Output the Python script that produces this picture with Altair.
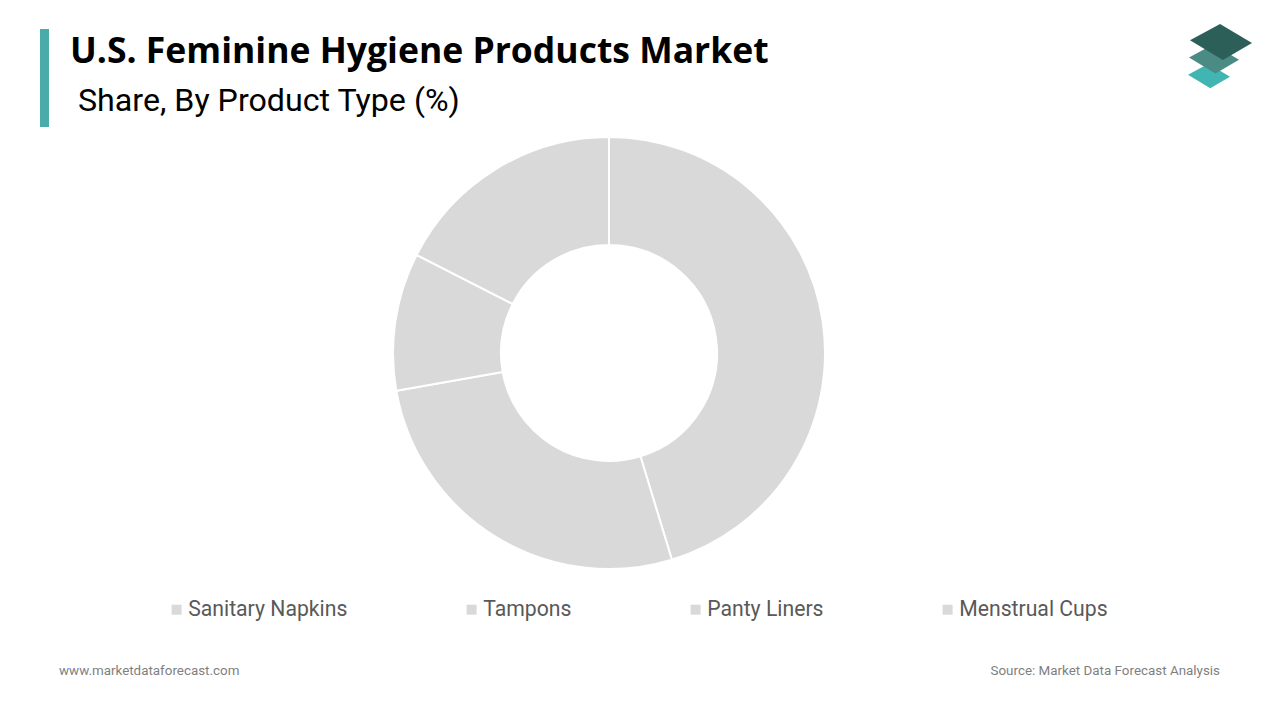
import altair as alt
import pandas as pd

categories = ["Sanitary Napkins", "Tampons", "Panty Liners", "Menstrual Cups"]
shares = [45.3, 26.9, 10.3, 17.5]
slice_colors = ["#d9d9d9", "#d9d9d9", "#d9d9d9", "#d9d9d9"]

title_text = "U.S. Feminine Hygiene Products Market"
subtitle_text = "Share, By Product Type (%)"
footer_left = "www.marketdataforecast.com"
footer_right = "Source: Market Data Forecast Analysis"

df = pd.DataFrame({"cat": categories, "share": shares, "order": list(range(len(categories)))})
one = pd.DataFrame({"a": [0]})

W, H = 1264, 704

arc = alt.Chart(df).mark_arc(
    radius=216, radius2=108, stroke="white", strokeWidth=2
).encode(
    theta=alt.Theta("share:Q", stack=True),
    order=alt.Order("order:Q"),
    color=alt.Color(
        "cat:N",
        sort=categories,
        scale=alt.Scale(domain=categories, range=slice_colors),
        legend=alt.Legend(
            title=None,
            orient="none",
            legendX=158,
            legendY=591,
            padding=0,
            direction="horizontal",
            symbolType="square",
            symbolSize=100,
            symbolStrokeWidth=0,
            labelFont="Roboto",
            labelFontSize=21.2,
            labelColor="#595959",
            labelOffset=1,
            columnPadding=113,
            labelLimit=400,
        ),
    ),
    x=alt.value(601),
    y=alt.value(345),
)

bar = alt.Chart(one).mark_rect(color="#4aabab").encode(
    x=alt.value(32), x2=alt.value(41), y=alt.value(21), y2=alt.value(119)
)

title = alt.Chart(one).mark_text(
    text=title_text, font="Open Sans", fontWeight="bold", fontSize=35.5,
    align="left", baseline="alphabetic", color="#000000"
).encode(x=alt.value(62), y=alt.value(55))

subtitle = alt.Chart(one).mark_text(
    text=subtitle_text, font="Roboto", fontSize=32.2,
    align="left", baseline="alphabetic", color="#000000"
).encode(x=alt.value(70), y=alt.value(103))

fl = alt.Chart(one).mark_text(
    text=footer_left, font="Roboto", fontSize=13.4,
    align="left", baseline="alphabetic", color="#7f7f7f"
).encode(x=alt.value(51), y=alt.value(667))

fr = alt.Chart(one).mark_text(
    text=footer_right, font="Roboto", fontSize=13.4,
    align="right", baseline="alphabetic", color="#7f7f7f"
).encode(x=alt.value(1212), y=alt.value(667))

rhombus = "M-1,-0.06 L-0.03,-0.58 L1,0.03 L0.06,0.58 Z"
logo_bottom = alt.Chart(one).mark_point(
    shape=rhombus, filled=True, color="#40b5b2", opacity=1, size=42 * 42
).encode(x=alt.value(1201), y=alt.value(68))
logo_mid = alt.Chart(one).mark_point(
    shape=rhombus, filled=True, color="#4b8b85", opacity=1, size=50 * 50
).encode(x=alt.value(1206), y=alt.value(51))
logo_top = alt.Chart(one).mark_point(
    shape=rhombus, filled=True, color="#2d5f59", opacity=1, size=62 * 62
).encode(x=alt.value(1213), y=alt.value(34))

chart = alt.layer(
    bar, title, subtitle, arc, fl, fr, logo_bottom, logo_mid, logo_top
).properties(
    width=W, height=H, padding=0,
    autosize=alt.AutoSizeParams(type="none"),
).configure_view(stroke=None)

chart.save("out.html", embed_options={"renderer": "svg", "actions": False})
